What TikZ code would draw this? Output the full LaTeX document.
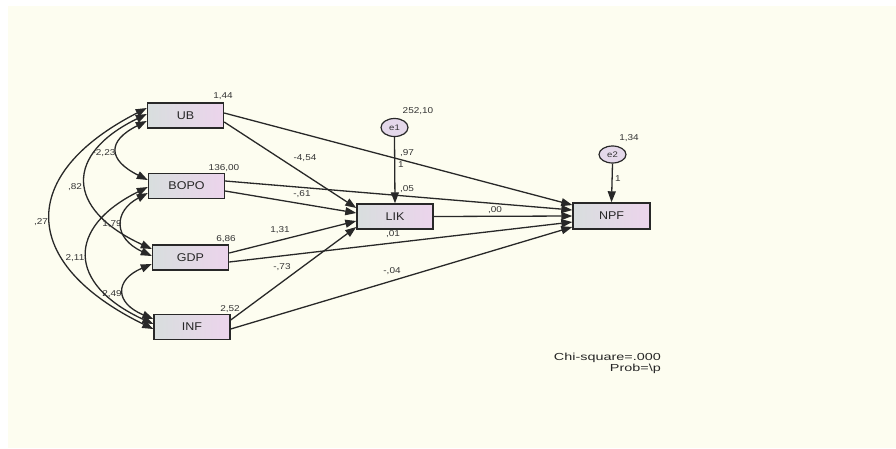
\documentclass[tikz,border=0pt]{standalone}
\usepackage{fontspec}
\setmainfont{Liberation Sans}
\usepackage{graphicx}
\usetikzlibrary{arrows.meta,shapes.geometric}
\definecolor{bgc}{RGB}{253,253,240}
\definecolor{lnc}{RGB}{40,40,40}
\definecolor{boxl}{RGB}{216,222,222}
\definecolor{boxr}{RGB}{236,212,236}
\definecolor{ell}{RGB}{228,216,234}
\newcommand\mylbl[1]{\scalebox{1}[0.85]{#1}}
\newcommand\myboxtxt[1]{\scalebox{1}[0.9]{#1}}
\begin{document}
\begin{tikzpicture}[x=1pt,y=-1pt,
 var/.style={draw=lnc, line width=1.4pt, left color=boxl, right color=boxr, minimum width=76pt, minimum height=25pt, inner sep=0pt, text=black!85, font=\fontsize{12.5}{13}\selectfont},
 err/.style={ellipse, draw=lnc, line width=1.2pt, fill=ell, minimum width=27pt, minimum height=18pt, inner sep=0pt, font=\fontsize{9.5}{10}\selectfont, text=black!80},
 lbl/.style={inner sep=0pt, font=\fontsize{10}{11}\selectfont, text=black!80},
 pth/.style={draw=lnc, line width=1.3pt, -{Triangle[length=11pt,width=8pt]}},
 cov/.style={draw=lnc, line width=1.3pt, {Triangle[length=11pt,width=8pt]}-{Triangle[length=11pt,width=8pt]}},
]
\useasboundingbox (0,0) rectangle (896,448);
\fill[white] (0,0) rectangle (896,448);
\fill[bgc] (8,6) rectangle (896,448);

% observed variables
\node[var] (UB)   at (185.5,115.5) {\myboxtxt{UB}};
\node[var] (BOPO) at (186.5,186)   {\myboxtxt{BOPO}};
\node[var] (GDP)  at (190.5,257.5) {\myboxtxt{GDP}};
\node[var] (INF)  at (192,327)     {\myboxtxt{INF}};
\node[var] (LIK)  at (395,216.5)   {\myboxtxt{LIK}};
\node[var, minimum width=77pt, minimum height=26pt] (NPF) at (611.5,216) {\myboxtxt{NPF}};

% errors
\node[err] (e1) at (394.5,127.5) {\mylbl{e1}};
\node[err, minimum height=17pt] (e2) at (612.5,154.5) {\mylbl{e2}};

% regression paths
\draw[pth] ([yshift=2.5pt]UB.east)  -- ([yshift=11pt]NPF.west);
\draw[pth] ([yshift=-6.5pt]UB.east) -- ([yshift=8.5pt]LIK.west);
\draw[pth] ([yshift=5pt]BOPO.east)  -- ([yshift=6pt]NPF.west);
\draw[pth] ([yshift=-5pt]BOPO.east) -- ([yshift=3.5pt]LIK.west);
\draw[pth] ([yshift=4.5pt]GDP.east) -- ([yshift=-4.5pt]LIK.west);
\draw[pth] ([yshift=-4.5pt]GDP.east) -- ([yshift=-6pt]NPF.west);
\draw[pth] ([yshift=7pt]INF.east)   -- ([yshift=-10.5pt]LIK.west);
\draw[pth] ([yshift=-2pt]INF.east)  -- ([yshift=-11pt]NPF.west);
\draw[pth] (LIK.east) -- (NPF.west);
\draw[pth] (e1.south) -- (LIK.north);
\draw[pth] (e2.south) -- (NPF.north);

% covariances
\draw[cov] ([yshift=-5.5pt]UB.west) .. controls +(-40,20) and +(-40,-20) .. ([yshift=6pt]BOPO.west);
\draw[cov] ([yshift=1.5pt]UB.west) .. controls +(-82,40) and +(-87,-40) .. ([yshift=8.5pt]GDP.west);
\draw[cov] ([yshift=7.5pt]UB.west) .. controls +(-129,66) and +(-135,-66) .. ([yshift=-2pt]INF.west);
\draw[cov] ([yshift=-7pt]BOPO.west) .. controls +(-34,18) and +(-39,-18) .. ([yshift=1.5pt]GDP.west);
\draw[cov] ([yshift=-1pt]BOPO.west) .. controls +(-81,40) and +(-87,-40) .. ([yshift=3pt]INF.west);
\draw[cov] ([yshift=-6.5pt]GDP.west) .. controls +(-37.5,16) and +(-38.5,-16) .. ([yshift=8pt]INF.west);

% variances
\node[lbl] (vUB)   at (223,96)  {\mylbl{1,44}};
\node[lbl] (vBOPO) at (224,168) {\mylbl{136,00}};
\node[lbl] (vGDP)  at (226,239) {\mylbl{6,86}};
\node[lbl] (vINF)  at (230,309) {\mylbl{2,52}};
\node[lbl] (ve1)   at (418,111) {\mylbl{252,10}};
\node[lbl] (ve2)   at (629,138) {\mylbl{1,34}};

% path coefficients
\node[lbl] (c1)  at (305,158) {\mylbl{-4,54}};
\node[lbl] (c2)  at (407,153) {\mylbl{,97}};
\node[lbl] (c3)  at (401,165) {\mylbl{1}};
\node[lbl] (c4)  at (407,189) {\mylbl{,05}};
\node[lbl] (c5)  at (302,194) {\mylbl{-,61}};
\node[lbl] (c6)  at (280,230) {\mylbl{1,31}};
\node[lbl] (c7)  at (393,234) {\mylbl{,01}};
\node[lbl] (c8)  at (495,210) {\mylbl{,00}};
\node[lbl] (c9)  at (282,267) {\mylbl{-,73}};
\node[lbl] (c10) at (392,271) {\mylbl{-,04}};
\node[lbl] (c11) at (618,179) {\mylbl{1}};

% covariance labels
\node[lbl] (k1) at (104,153) {\mylbl{-2,23}};
\node[lbl] (k2) at (75,187)  {\mylbl{,82}};
\node[lbl] (k3) at (41,222)  {\mylbl{,27}};
\node[lbl] (k4) at (112,224) {\mylbl{1,79}};
\node[lbl] (k5) at (75,258)  {\mylbl{2,11}};
\node[lbl] (k6) at (112,294) {\mylbl{2,49}};

% fit
\node[inner sep=0pt, anchor=base east, font=\fontsize{12}{13}\selectfont, text=black!85] (chi) at (661,360) {\scalebox{1.2}[0.85]{Chi-square=.000}};
\node[inner sep=0pt, anchor=base east, font=\fontsize{12}{13}\selectfont, text=black!85] (prob) at (661,371) {\scalebox{1.2}[0.85]{Prob=\textbackslash p}};
\end{tikzpicture}
\end{document}
